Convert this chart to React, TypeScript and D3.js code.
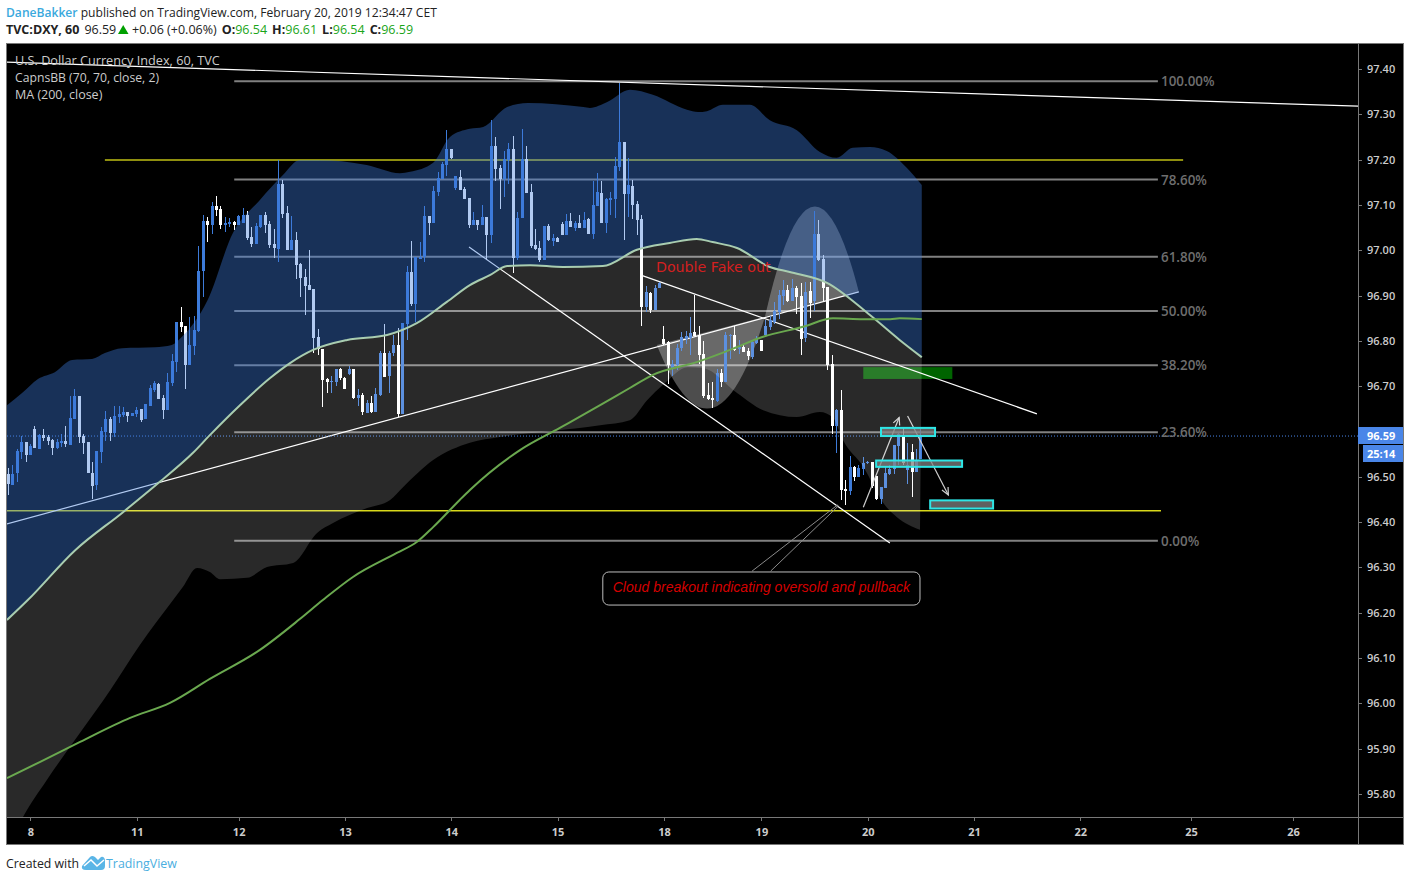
import React from "react";
import * as d3 from "d3";

// Hourly candles [open, high, low, close], grouped by session
const barsFeb8 = [
[96.507,96.520,96.459,96.484],[96.482,96.526,96.482,96.507],[96.509,96.562,96.489,96.556],[96.555,96.590,96.540,96.576],[96.576,96.576,96.533,96.548],
[96.548,96.573,96.548,96.567],[96.605,96.612,96.564,96.564],[96.562,96.595,96.562,96.592],[96.592,96.605,96.579,96.586],[96.587,96.592,96.570,96.579],
[96.581,96.584,96.548,96.564],[96.563,96.584,96.562,96.576],[96.574,96.595,96.566,96.579],[96.579,96.612,96.566,96.572],[96.570,96.678,96.570,96.629],
[96.628,96.693,96.628,96.678],[96.678,96.678,96.575,96.588],[96.590,96.595,96.550,96.575],[96.576,96.576,96.509,96.509],[96.509,96.532,96.452,96.479],
[96.482,96.556,96.472,96.556],[96.554,96.610,96.531,96.601],[96.598,96.645,96.579,96.627],[96.627,96.631,96.579,96.596],[96.596,96.656,96.588,96.634],
[96.632,96.656,96.618,96.638],[96.637,96.653,96.631,96.643],[96.643,96.643,96.621,96.634],[96.634,96.640,96.634,96.640],
];
const barsFeb11 = [
[96.638,96.654,96.632,96.648],[96.649,96.649,96.621,96.625],[96.628,96.660,96.628,96.660],[96.656,96.702,96.656,96.696],[96.691,96.711,96.687,96.707],
[96.704,96.706,96.671,96.671],[96.674,96.680,96.627,96.647],[96.647,96.729,96.647,96.709],[96.707,96.771,96.700,96.755],[96.754,96.841,96.731,96.841],
[96.841,96.874,96.819,96.831],[96.832,96.832,96.693,96.746],[96.746,96.852,96.746,96.790],[96.788,96.855,96.768,96.824],[96.821,97.009,96.819,96.954],
[96.955,97.077,96.897,97.064],[97.064,97.073,97.018,97.055],[97.055,97.106,97.036,97.097],[97.097,97.119,97.075,97.089],[97.091,97.097,97.047,97.055],
[97.055,97.073,97.040,97.060],[97.058,97.071,97.051,97.062],[97.062,97.064,97.044,97.055],
];
const barsFeb12 = [
[97.055,97.077,97.055,97.075],[97.060,97.093,97.060,97.077],[97.077,97.086,97.022,97.027],[97.029,97.051,97.007,97.013],[97.013,97.060,97.013,97.053],
[97.051,97.077,97.049,97.077],[97.077,97.084,97.038,97.055],[97.058,97.064,97.005,97.011],[97.013,97.047,96.983,97.005],[97.002,97.199,96.974,97.146],
[97.146,97.155,97.071,97.080],[97.082,97.097,97.000,97.000],[97.000,97.075,97.000,97.022],[97.022,97.040,96.936,96.967],[96.969,96.971,96.896,96.938],
[96.941,96.958,96.857,96.921],[96.923,97.000,96.912,96.912],[96.914,96.914,96.773,96.806],[96.808,96.826,96.768,96.782],[96.782,96.782,96.654,96.713],
[96.715,96.717,96.684,96.709],[96.709,96.722,96.684,96.711],[96.709,96.739,96.700,96.739],[96.739,96.741,96.713,96.717],
];
const barsFeb13 = [
[96.717,96.720,96.693,96.693],[96.728,96.744,96.724,96.739],[96.737,96.739,96.671,96.675],[96.675,96.693,96.656,96.680],[96.680,96.684,96.636,96.642],
[96.640,96.669,96.640,96.662],[96.662,96.678,96.640,96.644],[96.642,96.697,96.642,96.682],[96.680,96.777,96.678,96.773],[96.773,96.837,96.720,96.720],
[96.722,96.777,96.686,96.773],[96.773,96.812,96.766,96.790],[96.790,96.828,96.631,96.638],[96.638,96.839,96.638,96.839],[96.837,96.965,96.801,96.951],
[96.951,97.020,96.876,96.881],[96.881,96.985,96.841,96.985],[96.980,97.018,96.980,96.985],[96.985,97.097,96.973,97.075],[97.075,97.075,97.033,97.060],
[97.060,97.141,97.060,97.130],[97.128,97.172,97.119,97.159],[97.157,97.194,97.157,97.190],[97.188,97.265,97.163,97.223],
];
const barsFeb14 = [
[97.223,97.223,97.201,97.203],[97.137,97.163,97.132,97.163],[97.161,97.177,97.132,97.132],[97.135,97.139,97.113,97.113],[97.115,97.115,97.049,97.055],
[97.056,97.085,97.056,97.067],[97.067,97.067,97.045,97.056],[97.056,97.100,97.056,97.074],[97.074,97.074,96.979,97.034],[97.034,97.288,97.016,97.230],
[97.230,97.250,97.153,97.179],[97.182,97.188,97.091,97.157],[97.157,97.219,97.118,97.201],[97.199,97.237,97.146,97.224],[97.224,97.252,96.950,96.983],
[96.983,97.085,96.979,97.071],[97.071,97.268,97.071,97.202],[97.202,97.230,97.126,97.126],[97.129,97.146,97.005,97.009],[97.012,97.047,97.001,97.003],
[97.005,97.021,96.974,96.979],[96.979,97.054,96.979,97.054],[97.054,97.058,97.021,97.023],[97.021,97.036,97.009,97.027],
];
const barsFeb15 = [
[97.027,97.029,97.018,97.018],[97.058,97.062,97.034,97.034],[97.034,97.080,97.034,97.065],[97.065,97.082,97.051,97.051],[97.049,97.065,97.043,97.060],
[97.060,97.078,97.049,97.049],[97.049,97.085,97.049,97.067],[97.069,97.071,97.036,97.036],[97.036,97.153,97.025,97.100],[97.098,97.171,97.098,97.129],
[97.127,97.153,97.060,97.060],[97.060,97.115,97.038,97.113],[97.111,97.129,97.078,97.115],[97.113,97.206,97.071,97.186],[97.184,97.369,97.175,97.239],
[97.239,97.239,97.023,97.124],[97.124,97.204,97.074,97.144],[97.142,97.155,97.069,97.100],[97.102,97.109,97.034,97.067],[97.069,97.078,96.833,96.875],
[96.875,96.921,96.864,96.908],[96.906,96.908,96.862,96.868],[96.868,96.923,96.868,96.917],[96.917,96.929,96.917,96.928],
];
const barsFeb18 = [
[96.805,96.832,96.790,96.794],[96.797,96.799,96.704,96.746],[96.738,96.757,96.722,96.748],[96.746,96.793,96.735,96.785],[96.785,96.819,96.777,96.808],
[96.804,96.821,96.793,96.810],[96.807,96.852,96.768,96.817],[96.819,96.901,96.810,96.810],[96.812,96.832,96.748,96.768],[96.771,96.799,96.673,96.678],
[96.680,96.706,96.669,96.671],[96.673,96.709,96.651,96.669],[96.667,96.737,96.665,96.729],[96.729,96.737,96.698,96.709],[96.709,96.819,96.709,96.812],
[96.810,96.816,96.759,96.812],[96.812,96.832,96.777,96.779],[96.782,96.801,96.771,96.786],[96.786,96.793,96.775,96.775],[96.777,96.784,96.757,96.766],
[96.764,96.801,96.759,96.798],[96.795,96.810,96.793,96.804],
];
const barsFeb19 = [
[96.801,96.801,96.777,96.777],[96.813,96.846,96.811,96.833],[96.831,96.855,96.824,96.846],[96.842,96.886,96.837,96.866],[96.864,96.912,96.848,96.901],
[96.899,96.934,96.879,96.912],[96.912,96.923,96.886,96.888],[96.888,96.937,96.888,96.917],[96.917,96.921,96.859,96.897],[96.899,96.928,96.769,96.804],
[96.806,96.930,96.797,96.908],[96.910,96.930,96.850,96.884],[96.887,97.087,96.866,97.036],[97.036,97.067,96.976,96.979],[96.981,96.990,96.886,96.917],
[96.919,96.919,96.736,96.747],[96.749,96.769,96.594,96.612],[96.612,96.649,96.552,96.647],[96.647,96.691,96.449,96.471],[96.473,96.493,96.438,96.468],
[96.468,96.546,96.460,96.521],[96.521,96.524,96.491,96.499],[96.499,96.526,96.499,96.519],[96.517,96.544,96.504,96.530],
];
const barsFeb20 = [
[96.530,96.535,96.528,96.532],[96.532,96.532,96.475,96.480],[96.502,96.502,96.449,96.451],[96.451,96.477,96.440,96.477],[96.475,96.524,96.475,96.508],
[96.506,96.526,96.504,96.517],[96.517,96.570,96.506,96.570],[96.568,96.597,96.526,96.594],[96.592,96.610,96.526,96.530],[96.515,96.574,96.484,96.526],
[96.555,96.572,96.455,96.510],[96.510,96.561,96.510,96.537],[96.54,96.61,96.54,96.59],
];

// Cloud and moving average as [bar, price]
const upperBand = [[-0.3,96.658],[3.1,96.685],[6.7,96.716],[10.5,96.731],[14.4,96.758],[18.9,96.760],[21.8,96.773],[25.7,96.784],[33.1,96.786],[36.9,96.791],[39.2,96.809],[45,96.890],[50.7,97.038],[56.8,97.111],[62,97.166],[65.8,97.199],[69.7,97.199],[80.9,97.188],[88.4,97.170],[90.7,97.173],[95.9,97.193],[99.7,97.250],[104.2,97.268],[107.2,97.272],[112.6,97.316],[117.3,97.325],[129.8,97.316],[131.3,97.314],[135.2,97.327],[140.3,97.354],[145.5,97.343],[153.2,97.310],[155.7,97.305],[157.7,97.307],[161.3,97.321],[167.4,97.321],[171.9,97.287],[178,97.265],[183.2,97.217],[187,97.204],[190.6,97.226],[194.5,97.228],[198.3,97.219],[202.8,97.182],[206.2,97.144]];
const basisBand = [[-0.3,96.184],[4.4,96.228],[15.1,96.338],[25.9,96.422],[34.2,96.489],[41.7,96.553],[45.5,96.592],[52.3,96.658],[59.1,96.718],[63.6,96.751],[68.8,96.780],[76.5,96.802],[85.5,96.813],[92.2,96.839],[99,96.886],[104.2,96.923],[108.7,96.945],[112.6,96.965],[117.8,96.967],[125.2,96.963],[134.2,96.965],[141.9,97.001],[149.3,97.016],[155.4,97.025],[159,97.018],[164.5,97.005],[171.9,96.963],[176.4,96.952],[184.8,96.928],[194.5,96.857],[201.2,96.802],[206.2,96.764]];
const lowerBand = [[-0.3,95.676],[3.3,95.749],[8.7,95.831],[16.2,95.935],[23,96.029],[29.7,96.129],[37.2,96.228],[39.4,96.257],[42.6,96.299],[45.5,96.290],[47.8,96.274],[53.9,96.277],[58.4,96.301],[64.3,96.310],[69.7,96.376],[73.3,96.398],[81,96.431],[86.2,96.449],[89.1,96.477],[95.9,96.537],[104.2,96.575],[111,96.588],[122.3,96.601],[133.6,96.614],[140.3,96.625],[144.2,96.669],[147.8,96.703],[153.4,96.742],[156.8,96.740],[164.5,96.685],[170.4,96.647],[178,96.632],[183.2,96.643],[186.2,96.630],[188.4,96.581],[193,96.522],[197.5,96.442],[200.6,96.411],[205.8,96.383]];
const ma200 = [[-0.3,95.835],[7.2,95.871],[16.2,95.915],[27.5,95.968],[36.5,96.001],[45.5,96.054],[56.8,96.118],[65.8,96.186],[71,96.228],[77.8,96.279],[87.7,96.332],[92.2,96.356],[95.9,96.389],[101.9,96.449],[104.2,96.471],[115.5,96.559],[124.5,96.608],[133.6,96.658],[140.3,96.696],[145.5,96.725],[155.4,96.753],[162.9,96.780],[170.4,96.809],[179.4,96.831],[186.2,96.850],[193,96.848],[199.1,96.848],[201.2,96.850],[206.2,96.848]];

// Fibonacci retracement
const fibHigh = 97.373;
const fibLow = 96.359;
const fibRatios = [1, 0.786, 0.618, 0.5, 0.382, 0.236, 0];
const fibLabels = ["100.00%", "78.60%", "61.80%", "50.00%", "38.20%", "23.60%", "0.00%"];
const fibBars = [51, 259.5];

// Drawings: [bar, price, bar, price]
const whiteLines = [
  [-0.3, 97.415, 304.7, 97.318],
  [-0.3, 96.396, 192, 96.908],
  [104, 97.007, 199, 96.354],
  [142.8, 96.945, 232.2, 96.639],
];
const topLevel = [21.8, 97.199, 265.2, 97.199];
const bottomLevel = [-0.3, 96.425, 260.2, 96.425];
const arcLow = [146.4, 96.791, 159.1, 96.482, 170.8, 96.853];
const arcHigh = [170.8, 96.853, 181.4, 97.311, 192, 96.908];
const greenZone = [193, 96.742, 213.1, 96.716];
const cyanBoxes = [
  [197, 96.608, 209.2, 96.590],
  [195.9, 96.536, 215.3, 96.522],
  [208.1, 96.448, 222.3, 96.430],
];
const arrows = [
  [193, 96.433, 201.1, 96.631],
  [203, 96.634, 212.2, 96.460],
];
const calloutLegs = [
  [167.9, 96.292, 187.2, 96.438],
  [172.1, 96.292, 187.4, 96.436],
];
const calloutBox = [134.2, 96.290, 205.8, 96.217];

const priceTicks = d3.range(0, 17).map((k) => +(95.8 + k * 0.1).toFixed(2));
const dayTickBars = [5, 29, 52, 76, 100, 124, 148, 170, 194, 218, 242, 267, 290];
const dayTickLabels = ["8", "11", "12", "13", "14", "15", "18", "19", "20", "21", "22", "25", "26"];
const lastPrice = 96.59;

const candles = [...barsFeb8, ...barsFeb11, ...barsFeb12, ...barsFeb13, ...barsFeb14, ...barsFeb15, ...barsFeb18, ...barsFeb19, ...barsFeb20];

const plotLeft = 7;
const plotRight = 1358;
const plotTop = 44;
const plotBottom = 817;
const x = d3.scaleLinear().domain([0, 100]).range([8.3, 451.3]);
const y = d3.scaleLinear().domain([97.4, 95.8]).range([69, 794]);

const FONT = "'Open Sans', sans-serif";
const UP = "#3d7bd9";
const DOWN = "#ffffff";

const smooth = d3.line<number[]>().x((d) => x(d[0])).y((d) => y(d[1])).curve(d3.curveMonotoneX);
const rev = (a: number[][]) => [...a].reverse();
const ribbon = (a: number[][], b: number[][]) => `${smooth(a)}L${(smooth(rev(b)) || "").slice(1)}Z`;

function arcPath(a: number[]) {
  const p = d3.path();
  p.moveTo(x(a[0]), y(a[1]));
  p.quadraticCurveTo(x(a[2]), y(a[3]), x(a[4]), y(a[5]));
  p.closePath();
  return p.toString();
}

function arrowHead(a: number[]) {
  const x1 = x(a[2]), y1 = y(a[3]);
  const ang = Math.atan2(y1 - y(a[1]), x1 - x(a[0]));
  const L = 8;
  const p = d3.path();
  p.moveTo(x1 + L * Math.cos(ang + 2.7), y1 + L * Math.sin(ang + 2.7));
  p.lineTo(x1, y1);
  p.lineTo(x1 + L * Math.cos(ang - 2.7), y1 + L * Math.sin(ang - 2.7));
  return p.toString();
}

export default function App() {
  return (
    <svg width={1410} height={881} style={{ position: "absolute", left: 0, top: 0, display: "block", background: "#fff" }} fontFamily={FONT}>
      <defs>
        <clipPath id="plot"><rect x={plotLeft} y={plotTop} width={plotRight - plotLeft} height={plotBottom - plotTop} /></clipPath>
      </defs>

      {/* header */}
      <text x={6} y={17} fontSize={12.1}>
        <tspan fill="#3aa9dd" fontWeight={600}>DaneBakker</tspan>
        <tspan fill="#222"> published on TradingView.com, February 20, 2019 12:34:47 CET</tspan>
      </text>
      <text x={6} y={34} fontSize={12.5} fill="#222">
        <tspan fontWeight={700}>TVC:DXY, 60</tspan>
        <tspan dx={5}>96.59</tspan>
      </text>
      <path d="M118 34 L128.5 34 L123.2 25 Z" fill="#00a000" />
      <text x={132} y={34} fontSize={12.5} fill="#222">
        <tspan>+0.06 (+0.06%)</tspan>
        <tspan dx={5} fontWeight={700}>O:</tspan><tspan fill="#1aa51a">96.54</tspan>
        <tspan dx={5} fontWeight={700}>H:</tspan><tspan fill="#1aa51a">96.61</tspan>
        <tspan dx={5} fontWeight={700}>L:</tspan><tspan fill="#1aa51a">96.54</tspan>
        <tspan dx={5} fontWeight={700}>C:</tspan><tspan fill="#1aa51a">96.59</tspan>
      </text>

      {/* frame */}
      <rect x={6.5} y={43.5} width={1397} height={801} fill="#000" stroke="#787878" />

      <g clipPath="url(#plot)">
        <rect x={x(greenZone[0])} y={y(greenZone[1])} width={x(greenZone[2]) - x(greenZone[0])} height={y(greenZone[3]) - y(greenZone[1])} fill="#006400" />
        {fibRatios.map((r) => {
          const v = fibLow + r * (fibHigh - fibLow);
          return <line key={r} x1={x(fibBars[0])} x2={x(fibBars[1])} y1={y(v)} y2={y(v)} stroke="#808080" strokeWidth={2} />;
        })}
        <line x1={x(topLevel[0])} x2={x(topLevel[2])} y1={y(topLevel[1])} y2={y(topLevel[3])} stroke="#8f8f0f" strokeWidth={2} />
        <line x1={x(bottomLevel[0])} x2={x(bottomLevel[2])} y1={y(bottomLevel[1])} y2={y(bottomLevel[3])} stroke="#d8d81a" strokeWidth={1.5} />
        <path d={arcPath(arcLow)} fill="#fff" fillOpacity={0.3} />
        <path d={arcPath(arcHigh)} fill="#fff" fillOpacity={0.3} />
        {whiteLines.map((l, i) => (
          <line key={i} x1={x(l[0])} y1={y(l[1])} x2={x(l[2])} y2={y(l[3])} stroke="#fff" strokeWidth={1.2} />
        ))}
        <line x1={plotLeft} x2={plotRight} y1={y(lastPrice)} y2={y(lastPrice)} stroke="#4a86e8" strokeDasharray="1 2" />
        <g shapeRendering="crispEdges">
          {candles.map((c, i) => {
            const cx = Math.floor(x(i));
            const up = c[3] >= c[0];
            const fill = up ? UP : DOWN;
            const top = y(Math.max(c[0], c[3]));
            const bot = y(Math.min(c[0], c[3]));
            return (
              <g key={i} fill={fill}>
                <rect x={cx} y={y(c[1])} width={1} height={Math.max(1, y(c[2]) - y(c[1]))} />
                <rect x={cx - 1} y={top} width={3} height={Math.max(1, bot - top)} />
              </g>
            );
          })}
        </g>
        {arrows.map((a, i) => (
          <g key={i} stroke="#cfcfcf" strokeWidth={1.2} fill="none">
            <line x1={x(a[0])} y1={y(a[1])} x2={x(a[2])} y2={y(a[3])} />
            <path d={arrowHead(a)} />
          </g>
        ))}
        {/* cloud */}
        <path d={ribbon(upperBand, basisBand)} fill="rgb(61,122,219)" fillOpacity={0.4} />
        <path d={ribbon(basisBand, lowerBand)} fill="#fff" fillOpacity={0.16} />
        <path d={smooth(basisBand) || ""} fill="none" stroke="#a9cdb0" strokeWidth={2} />
        <path d={smooth(ma200) || ""} fill="none" stroke="#6aa84f" strokeWidth={2} />
        {cyanBoxes.map((b, i) => (
          <rect key={i} x={x(b[0])} y={y(b[1])} width={x(b[2]) - x(b[0])} height={y(b[3]) - y(b[1])} fill="#808080" fillOpacity={0.75} stroke="#2ee6e6" strokeWidth={2} />
        ))}

        {calloutLegs.map((l, i) => (
          <line key={i} x1={x(l[0])} y1={y(l[1])} x2={x(l[2])} y2={y(l[3])} stroke="#8a8a8a" strokeWidth={1} />
        ))}
        <rect x={x(calloutBox[0])} y={y(calloutBox[1])} width={x(calloutBox[2]) - x(calloutBox[0])} height={y(calloutBox[3]) - y(calloutBox[1])} rx={6} fill="#000" stroke="#bdbdbd" />
        <text x={(x(calloutBox[0]) + x(calloutBox[2])) / 2} y={592} textAnchor="middle" fontStyle="italic" fontSize={14} fontFamily="'Liberation Sans', sans-serif" fill="#d40000">Cloud breakout indicating oversold and pullback</text>
        <text x={656} y={272} fontSize={14.2} fontFamily="'DejaVu Sans', sans-serif" fill="#d42020">Double Fake out</text>

        {fibRatios.map((r, i) => {
          const v = fibLow + r * (fibHigh - fibLow);
          return <text key={r} x={1161} y={y(v) + 5} fontSize={13.4} fontWeight={600} fill="#6e6e6e">{fibLabels[i]}</text>;
        })}

        <text x={15} y={65} fontSize={12.7} fill="#cccccc">U.S. Dollar Currency Index, 60, TVC</text>
        <text x={15} y={82} fontSize={12.2} fill="#cccccc">CapnsBB (70, 70, close, 2)</text>
        <text x={15} y={99} fontSize={12.5} fill="#cccccc">MA (200, close)</text>
      </g>

      {/* axes */}
      <line x1={plotRight + 0.5} x2={plotRight + 0.5} y1={44} y2={844} stroke="#787878" />
      <line x1={7} x2={1403} y1={817.5} y2={817.5} stroke="#787878" />
      {priceTicks.map((t) => (
        <g key={t}>
          <line x1={plotRight} x2={plotRight + 4} y1={Math.round(y(t)) + 0.5} y2={Math.round(y(t)) + 0.5} stroke="#787878" />
          {Math.abs(t - lastPrice) > 0.03 && (
            <text x={1367} y={y(t) + 4} fontSize={11} fontWeight={600} fill="#cccccc">{t.toFixed(2)}</text>
          )}
        </g>
      ))}
      {dayTickBars.map((b, i) => (
        <g key={b}>
          <line x1={Math.round(x(b)) + 0.5} x2={Math.round(x(b)) + 0.5} y1={817} y2={821} stroke="#787878" />
          <text x={x(b) + 0.5} y={836} textAnchor="middle" fontSize={11} fontWeight={700} fill="#cccccc">{dayTickLabels[i]}</text>
        </g>
      ))}
      <rect x={1358} y={427} width={45} height={17} fill="#4a86e8" />
      <text x={1367} y={439.5} fontSize={11} fontWeight={700} fill="#fff">96.59</text>
      <rect x={1363} y={445} width={40} height={17} fill="#4a86e8" />
      <text x={1367} y={457.5} fontSize={11} fontWeight={700} fill="#fff">25:14</text>

      {/* footer */}
      <text x={6} y={868} fontSize={12.3} fill="#222">Created with</text>
      <path d="M82 866 L90 857 Q92 855 95 857 L98 860 L101 857 Q104 856 105 860 L105 866 Q105 870 101 870 L86 870 Q81 870 82 866 Z" fill="#5ab5e6" />
      <path d="M84 866 L91 860 L97 866 L104 860" fill="none" stroke="#fff" strokeWidth={1.5} />
      <text x={106} y={868} fontSize={12.4} fill="#4aaee0">TradingView</text>
    </svg>
  );
}
